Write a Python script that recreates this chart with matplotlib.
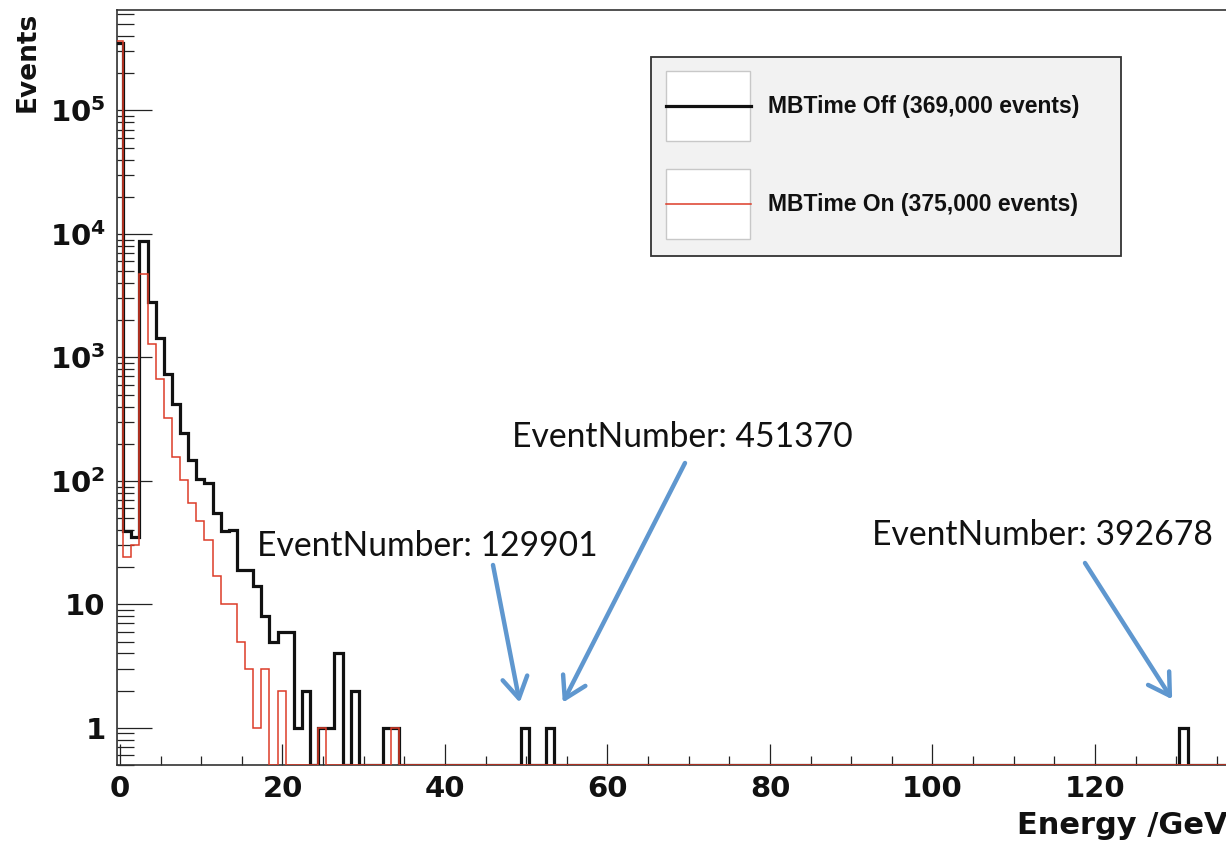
import numpy as np
import matplotlib.pyplot as plt
from matplotlib.patches import Rectangle
from matplotlib.lines import Line2D
from matplotlib.ticker import FixedLocator, MultipleLocator, LogLocator, NullFormatter

# 1 GeV bins, first lower edge at -0.6 GeV
first_edge = -0.6
bin_width = 1.0
n_bins = 137

# counts per bin for the low-energy part (bin 0 .. 34)
off_counts_low = [354000, 39, 35, 8830, 2830, 1430, 735, 420, 243, 148,
                  103, 96, 55, 39, 40, 19, 19, 14, 8, 5,
                  6, 6, 1, 2, 0, 1, 1, 4, 0, 2,
                  0, 0, 0, 1, 1]
on_counts_low = [367000, 24, 30, 4720, 1290, 666, 325, 157, 102, 66,
                 47, 33, 17, 10, 10, 5, 3, 1, 3, 0,
                 2, 0, 0, 0, 0, 1, 0, 0, 0, 0,
                 0, 0, 0, 0, 1]

# isolated high-energy events (MBTime Off only)
event_numbers = ["129901", "451370", "392678"]
event_bins = [50, 53, 131]
event_counts = [1, 1, 1]

series_labels = ["MBTime Off (369,000 events)", "MBTime On (375,000 events)"]
series_colors = ["#111111", "#dc3c28"]
series_widths = [2.3, 1.1]

x_ticks = [0, 20, 40, 60, 80, 100, 120]
y_ticks = [1, 10, 100, 1000, 10000, 100000]
y_tick_labels = ["1", "10", r"$\mathbf{10^{2}}$", r"$\mathbf{10^{3}}$",
                 r"$\mathbf{10^{4}}$", r"$\mathbf{10^{5}}$"]

y_min, y_max = 0.5, 6.5e5
x_min, x_max = -0.406, 137.85


def full_counts(low, bins=(), counts=()):
    out = np.zeros(n_bins)
    out[:len(low)] = low
    for b, c in zip(bins, counts):
        out[b] = c
    return out


edges = first_edge + bin_width * np.arange(n_bins + 1)
off_counts = full_counts(off_counts_low, event_bins, event_counts)
on_counts = full_counts(on_counts_low)

W, H = 1226, 842
fig = plt.figure(figsize=(W / 100, H / 100), dpi=100)
ax = fig.add_axes([116.7 / W, (H - 765) / H, (1240 - 116.7) / W, (765 - 10) / H])

for counts, color, lw in zip([off_counts, on_counts], series_colors, series_widths):
    # empty bins are drawn along the bottom of the frame
    shown = np.where(counts > 0, counts, y_min)
    ax.stairs(shown, edges, baseline=y_min, color=color, lw=lw, zorder=3)

ax.set_yscale("log")
ax.set_xlim(x_min, x_max)
ax.set_ylim(y_min, y_max)

ax.xaxis.set_major_locator(FixedLocator(x_ticks))
ax.xaxis.set_minor_locator(MultipleLocator(5))
ax.set_xticklabels([str(t) for t in x_ticks])
ax.yaxis.set_major_locator(FixedLocator(y_ticks))
ax.set_yticklabels(y_tick_labels)
ax.yaxis.set_minor_locator(LogLocator(base=10, subs=np.arange(2, 10), numticks=20))
ax.yaxis.set_minor_formatter(NullFormatter())

tick_font = {"family": "DejaVu Sans", "weight": "bold", "size": 21}
for lab in ax.get_xticklabels() + ax.get_yticklabels():
    lab.set_fontproperties(tick_font)

ax.tick_params(axis="x", which="major", direction="in", length=15, width=0.9, pad=7, colors="#222222")
ax.tick_params(axis="x", which="minor", direction="in", length=6.5, width=0.9, colors="#222222")
ax.tick_params(axis="y", which="major", direction="in", length=25, width=0.9, pad=8, colors="#222222")
ax.tick_params(axis="y", which="minor", direction="in", length=12, width=0.9, colors="#222222")
ax.tick_params(labelcolor="#111111")
for s in ax.spines.values():
    s.set_color("#333333")
    s.set_linewidth(1.2)

fig.text(28 / W, (H - 12) / H, "Events", rotation=90, ha="center", va="top",
         family="DejaVu Sans", weight="bold", size=19, color="#111111")
fig.text(1017 / W, (H - 826) / H, "Energy /GeV", ha="left", va="center",
         family="DejaVu Sans", weight="bold", size=22, color="#111111")

# legend panel
fig.add_artist(Rectangle((651 / W, (H - 256) / H), 470 / W, 199 / H, transform=fig.transFigure,
                         facecolor="#f2f2f2", edgecolor="#333333", lw=1.3))
for i, (label, color, lw) in enumerate(zip(series_labels, series_colors, series_widths)):
    top = 71 + i * 98
    fig.add_artist(Rectangle((666 / W, (H - top - 70) / H), 84 / W, 70 / H, transform=fig.transFigure,
                             facecolor="white", edgecolor="#c8c8c8", lw=1.0))
    yc = (H - top - 35) / H
    fig.add_artist(Line2D([666 / W, 751 / W], [yc, yc], transform=fig.transFigure, color=color, lw=lw))
    fig.text(768 / W, yc, label, ha="left", va="center", family="Liberation Sans",
             weight="bold", size=16.5, color="#111111")

# callouts for the isolated events
arrow_color = "#5f97cf"
text_pos = [(257, 546), (512, 437), (872, 535)]
arrow_tails = [(493, 565), (685, 463), (1085, 563)]
arrow_tips = [(49.2, 1.6), (54.5, 1.6), (129.5, 1.7)]
for num, (tx, ty), (ax_px, ay_px), tip in zip(event_numbers, text_pos, arrow_tails, arrow_tips):
    fig.text(tx / W, (H - ty) / H, f"EventNumber: {num}", ha="left", va="center",
             family="Lato", size=24.2, color="#111111")
    ax.annotate("", xy=tip, xycoords="data", xytext=(ax_px, H - ay_px), textcoords="figure pixels",
                arrowprops=dict(arrowstyle="->,head_length=0.75,head_width=0.45", color=arrow_color,
                                lw=3.2, mutation_scale=20, shrinkA=0, shrinkB=0))

fig.savefig("out.png", dpi=100)
